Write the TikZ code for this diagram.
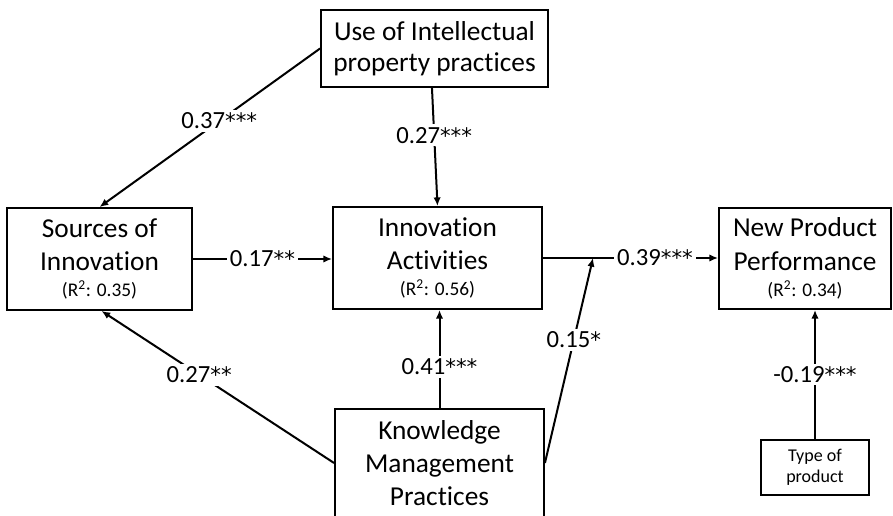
\documentclass[tikz,border=0pt]{standalone}
\usepackage{fontspec}
\setmainfont{Carlito}[Ligatures=NoCommon]
\newfontfamily\djv{DejaVu Sans}
\usetikzlibrary{arrows.meta}
\newcommand\rsqline[1]{{\fontsize{14.5}{17}\selectfont (R\textsuperscript{2}: #1)}}
\newcommand\myst{{\djv\fontsize{16}{18}\selectfont *}}
\begin{document}
\begin{tikzpicture}[x=0.75pt,y=-0.75pt,
  box/.style={draw,line width=1.4pt,align=center,inner sep=0pt,font=\fontsize{20.5}{25}\selectfont},
  smallbox/.style={draw,line width=1.4pt,align=center,inner sep=0pt,font=\fontsize{13.5}{16}\selectfont},
  lab/.style={fill=white,inner sep=2pt,font=\fontsize{18.5}{20}\selectfont},
  conn/.style={line width=1.5pt,-{Latex[length=6.5pt,width=5.5pt]}},
]
\useasboundingbox (0,0) rectangle (893,516);
\node[box,minimum width=170.25pt,minimum height=57.75pt] (ip) at (434.5,48.5) {Use of Intellectual\\[-1.5pt]property practices};
\node[box,minimum width=138.75pt,minimum height=76.5pt] (src) at (99.5,259) {Sources of\\Innovation\\[-5.5pt]\rsqline{0.35}};
\node[box,minimum width=156.75pt,minimum height=76.5pt] (inn) at (437.5,258) {Innovation\\Activities\\[-5.5pt]\rsqline{0.56}};
\node[box,minimum width=129pt,minimum height=75.75pt] (npp) at (805,258.5) {New Product\\Performance\\[-5.5pt]\rsqline{0.34}};
\node[box,minimum width=156.75pt,minimum height=81pt] (kmp) at (439.5,463) {Knowledge\\[-0.5pt]Management\\[-0.5pt]Practices};
\node[smallbox,minimum width=81pt,minimum height=41.25pt] (typ) at (815,467.5) {Type of\\product};
\coordinate (j) at (593,258);

\draw[conn] (ip.west) -- node[lab,pos=0.457]{0.37\myst\myst\myst} (src.north);
\draw[conn] ([xshift=-1.9pt]ip.south) -- node[lab,pos=0.4]{0.27\myst\myst\myst} (inn.north);
\draw[conn] (src.east) -- node[lab]{0.17\myst\myst} (src.east -| inn.west);
\draw[conn] (inn.east) -- node[lab,pos=0.64]{0.39\myst\myst\myst} (inn.east -| npp.west);
\draw[conn] (kmp.east) -- node[lab,pos=0.6]{0.15\myst} (j);
\draw[conn] (kmp.north) -- node[lab,pos=0.42]{0.41\myst\myst\myst} (kmp.north |- inn.south);
\draw[conn] (kmp.west) -- node[lab,pos=0.58]{0.27\myst\myst} ([xshift=1.5pt]src.south);
\draw[conn] (typ.north) -- node[lab,pos=0.5]{-0.19\myst\myst\myst} (typ.north |- npp.south);
\end{tikzpicture}
\end{document}
